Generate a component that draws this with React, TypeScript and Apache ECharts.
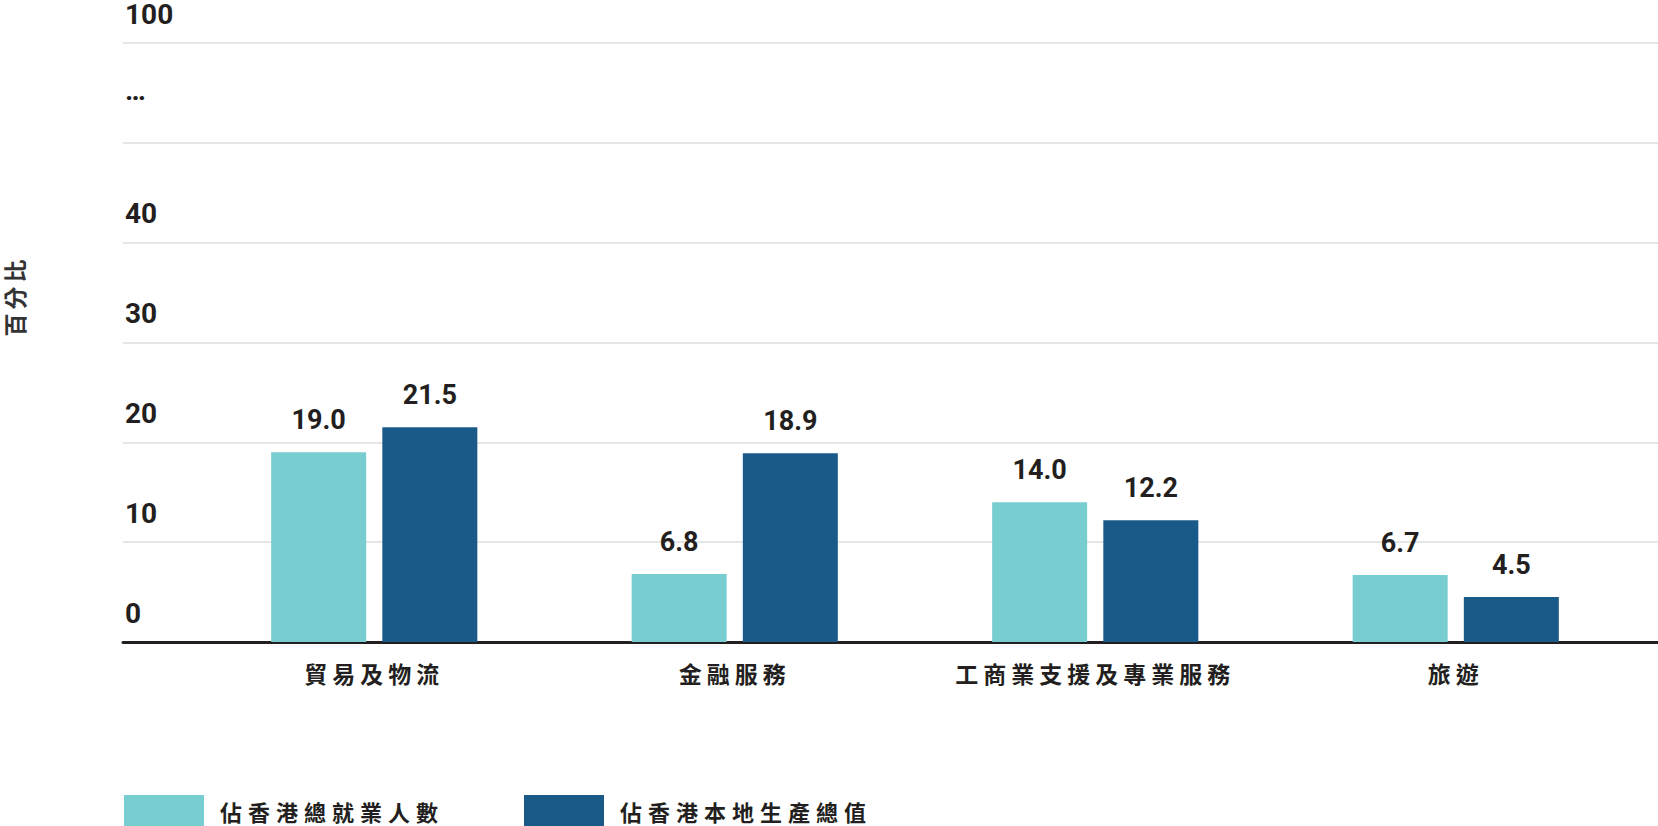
import React, { useEffect, useRef } from "react";
import * as echarts from "echarts";

const categories = ["貿易及物流", "金融服務", "工商業支援及專業服務", "旅遊"];
const seriesNames = ["佔香港總就業人數", "佔香港本地生產總值"];
const employmentShare = [19.0, 6.8, 14.0, 6.7];
const gdpShare = [21.5, 18.9, 12.2, 4.5];
const tickLabels: Record<number, string> = { 0: "0", 10: "10", 20: "20", 30: "30", 40: "40", 50: "…", 60: "100" };
const yAxisTitle = "百分比";

const TEAL = "#78CDD0";
const BLUE = "#1A5A89";
const INK = "#231F20";
const CJK = '"Noto Sans CJK TC", "Noto Sans", sans-serif';
const NUM = 'Roboto, "Noto Sans", sans-serif';

export default function App() {
  const ref = useRef<HTMLDivElement>(null);
  useEffect(() => {
    if (!ref.current) return;
    const chart = echarts.init(ref.current, undefined, { renderer: "svg" });
    const top = 43;
    const bottom = 184;
    const labelStyle = {
      show: true,
      position: "top",
      distance: 19,
      fontFamily: NUM,
      fontSize: 27,
      fontWeight: "bold",
      color: INK,
      formatter: (p: any) => Number(p.value).toFixed(1),
    };
    chart.setOption({
      animation: false,
      backgroundColor: "#ffffff",
      grid: [
        { left: 123, right: 0, top, bottom, containLabel: false },
        { left: 194, right: 22, top, bottom, containLabel: false },
      ],
      xAxis: [
        {
          gridIndex: 0,
          type: "value",
          min: 0,
          max: 1,
          axisLine: { show: true, onZero: false, lineStyle: { color: INK, width: 3 } },
          axisTick: { show: false },
          axisLabel: { show: false },
          splitLine: { show: false },
        },
        {
          gridIndex: 1,
          type: "category",
          data: categories,
          axisLine: { show: false },
          axisTick: { show: false },
          axisLabel: {
            margin: 19,
            fontFamily: CJK,
            fontSize: 23,
            fontWeight: "bold",
            color: INK,
          },
        },
      ],
      yAxis: [
        {
          gridIndex: 0,
          type: "value",
          min: 0,
          max: 60,
          interval: 10,
          axisLine: { show: false },
          axisTick: { show: false },
          splitLine: { show: true, lineStyle: { color: "#E6E6E6", width: 2 } },
          axisLabel: {
            inside: true,
            margin: 2,
            verticalAlign: "bottom",
            fontFamily: NUM,
            fontSize: 28,
            fontWeight: "bold",
            color: INK,
            lineHeight: 28,
            padding: [0, 0, 15, 0],
            formatter: (v: number) => {
              const t = tickLabels[Math.round(v)] ?? "";
              return t === "…" ? "{e|…}" : t;
            },
            rich: {
              e: {
                fontFamily: NUM,
                fontSize: 28,
                fontWeight: "bold",
                color: INK,
                lineHeight: 28,
                padding: [0, 0, 47, 0],
              },
            },
          },
        },
        {
          gridIndex: 1,
          type: "value",
          min: 0,
          max: 60,
          interval: 10,
          show: false,
          splitLine: { show: false },
        },
      ],
      legend: {
        left: 124,
        top: 795,
        padding: 0,
        itemWidth: 80,
        itemHeight: 31,
        itemGap: 128,
        icon: "rect",
        data: seriesNames,
        textStyle: {
          fontFamily: CJK,
          fontSize: 22,
          fontWeight: "bold",
          color: INK,
          padding: [0, 0, 0, 11],
        },
      },
      graphic: [
        {
          type: "text",
          x: 14,
          y: 296,
          rotation: Math.PI / 2,
          style: {
            text: yAxisTitle,
            fontFamily: CJK,
            fontSize: 23,
            fontWeight: "bold",
            fill: "#333333",
            align: "center",
            verticalAlign: "middle",
          },
        },
      ],
      series: [
        {
          name: seriesNames[0],
          type: "bar",
          xAxisIndex: 1,
          yAxisIndex: 1,
          data: employmentShare,
          barWidth: 95,
          barGap: "17%",
          itemStyle: { color: TEAL },
          label: labelStyle,
        },
        {
          name: seriesNames[1],
          type: "bar",
          xAxisIndex: 1,
          yAxisIndex: 1,
          data: gdpShare,
          barWidth: 95,
          barGap: "17%",
          itemStyle: { color: BLUE },
          label: labelStyle,
        },
      ],
    });

    // letter-spacing for the CJK texts, as in the reference
    const texts = ref.current.querySelectorAll("text");
    texts.forEach((t) => {
      const s = (t.textContent || "").trim();
      if (categories.includes(s)) {
        t.setAttribute("letter-spacing", "5");
        t.style.letterSpacing = "5px";
      } else if (seriesNames.includes(s)) {
        t.setAttribute("letter-spacing", "6");
        t.style.letterSpacing = "6px";
      } else if (s === yAxisTitle) {
        t.setAttribute("letter-spacing", "4");
        t.style.letterSpacing = "4px";
      }
    });
    return () => chart.dispose();
  }, []);
  return (
    <div
      ref={ref}
      style={{ position: "fixed", left: 0, top: 0, width: 1658, height: 826, background: "#fff" }}
    />
  );
}
